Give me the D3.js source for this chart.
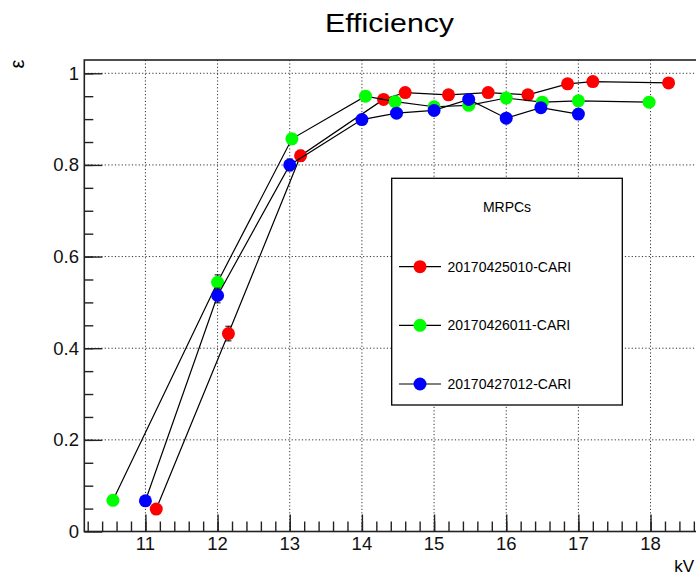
<!DOCTYPE html>
<html lang="en">
<head>
    <meta charset="utf-8">
    <title>Efficiency</title>
    <script src='https://cdn.jsdelivr.net/npm/d3@7/dist/d3.min.js'></script>
</head>
<style>
    body { margin: 0; background: #fff; }
    svg { position: absolute; font-family: 'Liberation Sans', Arial, sans-serif; }
    .grid line { stroke: #333; stroke-width: 1; stroke-dasharray: 1.2,2.2; }
</style>
<body>
<script type="text/javascript">

    // measured efficiency per chamber
    var redX   = [11.15, 12.15, 13.15, 14.3, 14.6, 15.2, 15.75, 16.3, 16.85, 17.2, 18.25];
    var redY   = [0.049, 0.432, 0.820, 0.943, 0.958, 0.953, 0.958, 0.953, 0.977, 0.982, 0.979];
    var redE   = [0.007, 0.016, 0.012, 0.007, 0.006, 0.007, 0.006, 0.007, 0.005, 0.004, 0.004];
    var greenX = [10.55, 12.0, 13.03, 14.05, 14.46, 15.0, 15.48, 16.0, 16.5, 17.0, 17.98];
    var greenY = [0.068, 0.544, 0.857, 0.950, 0.938, 0.927, 0.930, 0.946, 0.937, 0.940, 0.937];
    var greenE = [0.008, 0.016, 0.011, 0.007, 0.008, 0.008, 0.008, 0.007, 0.008, 0.008, 0.008];
    var blueX  = [11.0, 12.0, 13.0, 14.0, 14.48, 15.0, 15.48, 16.0, 16.48, 17.0];
    var blueY  = [0.067, 0.515, 0.800, 0.899, 0.913, 0.919, 0.943, 0.902, 0.925, 0.911];
    var blueE  = [0.008, 0.016, 0.013, 0.010, 0.009, 0.009, 0.007, 0.009, 0.008, 0.009];

    var seriesNames  = ['20170425010-CARI', '20170426011-CARI', '20170427012-CARI'];
    var seriesColors = ['#ff0000', '#00ff00', '#0000ff'];
    var xTicks = [11, 12, 13, 14, 15, 16, 17, 18];
    var yTicks = [0, 0.2, 0.4, 0.6, 0.8, 1];

    var width = 696, height = 577;
    var fLeft = 84.3, fRight = 702.5, fTop = 60, fBottom = 531.5;

    var svg = d3.select('body').append('svg')
        .attr('width', width)
        .attr('height', height);

    var xScale = d3.scaleLinear()
        .domain([10.153, 18.72])
        .range([fLeft, fRight]);
    var yScale = d3.scaleLinear()
        .domain([0, 1.029])
        .range([fBottom, fTop]);

    // dotted grid on major ticks
    var grid = svg.append('g').attr('class', 'grid');
    grid.selectAll('line.gx')
        .data(xTicks)
        .enter().append('line')
        .attr('class', 'gx')
        .attr('x1', function(d){ return xScale(d); })
        .attr('x2', function(d){ return xScale(d); })
        .attr('y1', fTop)
        .attr('y2', fBottom);
    grid.selectAll('line.gy')
        .data(yTicks.slice(1))
        .enter().append('line')
        .attr('class', 'gy')
        .attr('x1', fLeft)
        .attr('x2', fRight)
        .attr('y1', function(d){ return yScale(d); })
        .attr('y2', function(d){ return yScale(d); });

    // frame
    svg.append('rect')
        .attr('x', fLeft)
        .attr('y', fTop)
        .attr('width', fRight - fLeft)
        .attr('height', fBottom - fTop)
        .style('fill', 'none')
        .style('stroke', '#222')
        .style('stroke-width', 1.6);

    // x axis: ticks point up into the frame
    var xAxis = d3.axisTop(xScale)
        .tickValues(xTicks)
        .tickSize(17)
        .tickFormat('');
    var xMinor = d3.axisTop(xScale)
        .tickValues(d3.range(10.2, 18.75, 0.2))
        .tickSize(10)
        .tickFormat('');
    [xAxis, xMinor].forEach(function(ax){
        svg.append('g')
            .attr('transform', 'translate(0,' + fBottom + ')')
            .call(ax)
            .call(function(g){
                g.select('.domain').remove();
                g.selectAll('line').attr('stroke', '#222').attr('stroke-width', 1.4);
            });
    });
    svg.append('g').selectAll('text')
        .data(xTicks)
        .enter().append('text')
        .attr('x', function(d){ return xScale(d); })
        .attr('y', 550)
        .attr('text-anchor', 'middle')
        .style('font-size', '18.5px')
        .style('fill', '#111')
        .text(function(d){ return d; });

    // y axis: ticks point right into the frame
    var yAxis = d3.axisRight(yScale)
        .tickValues(yTicks)
        .tickSize(18)
        .tickFormat('');
    var yMinor = d3.axisRight(yScale)
        .tickValues(d3.range(0.05, 1.03, 0.05))
        .tickSize(9)
        .tickFormat('');
    [yAxis, yMinor].forEach(function(ax){
        svg.append('g')
            .attr('transform', 'translate(' + fLeft + ',0)')
            .call(ax)
            .call(function(g){
                g.select('.domain').remove();
                g.selectAll('line').attr('stroke', '#222').attr('stroke-width', 1.4);
            });
    });
    svg.append('g').selectAll('text')
        .data(yTicks)
        .enter().append('text')
        .attr('x', 79)
        .attr('y', function(d){ return yScale(d) + 6.5; })
        .attr('text-anchor', 'end')
        .style('font-size', '18.5px')
        .style('fill', '#111')
        .text(function(d){ return d; });

    // titles
    svg.append('text')
        .attr('x', 389.5)
        .attr('y', 32)
        .attr('text-anchor', 'middle')
        .attr('textLength', 129)
        .attr('lengthAdjust', 'spacingAndGlyphs')
        .style('font-size', '26px')
        .text('Efficiency');
    svg.append('text')
        .attr('x', 694)
        .attr('y', 571.5)
        .attr('text-anchor', 'end')
        .style('font-size', '17px')
        .text('kV');
    svg.append('text')
        .attr('transform', 'translate(24,64) rotate(-90)')
        .attr('text-anchor', 'middle')
        .style('font-size', '20px')
        .text('ε');

    // graphs: line, error bars, markers, drawn in order
    var allSeries = [
        {x: redX, y: redY, e: redE},
        {x: greenX, y: greenY, e: greenE},
        {x: blueX, y: blueY, e: blueE}
    ];
    var line = d3.line()
        .x(function(d){ return xScale(d[0]); })
        .y(function(d){ return yScale(d[1]); });

    allSeries.forEach(function(s, k){
        var pts = s.x.map(function(v, i){ return [v, s.y[i], s.e[i]]; });
        var g = svg.append('g');
        g.append('path')
            .datum(pts)
            .attr('d', line)
            .style('fill', 'none')
            .style('stroke', '#000')
            .style('stroke-width', 1.2);
        var eb = g.selectAll('g.err')
            .data(pts)
            .enter().append('g')
            .attr('class', 'err')
            .style('stroke', '#000')
            .style('stroke-width', 1);
        eb.append('line')
            .attr('x1', function(d){ return xScale(d[0]); })
            .attr('x2', function(d){ return xScale(d[0]); })
            .attr('y1', function(d){ return yScale(d[1] - d[2]); })
            .attr('y2', function(d){ return yScale(d[1] + d[2]); });
        [-1, 1].forEach(function(sg){
            eb.append('line')
                .attr('x1', function(d){ return xScale(d[0]) - 3; })
                .attr('x2', function(d){ return xScale(d[0]) + 3; })
                .attr('y1', function(d){ return yScale(d[1] + sg * d[2]); })
                .attr('y2', function(d){ return yScale(d[1] + sg * d[2]); });
        });
        g.selectAll('circle')
            .data(pts)
            .enter().append('circle')
            .attr('cx', function(d){ return xScale(d[0]); })
            .attr('cy', function(d){ return yScale(d[1]); })
            .attr('r', 6.5)
            .attr('fill', seriesColors[k]);
    });

    // legend
    var lx = 391.7, ly = 178.3, lw = 230.6, lh = 226.7;
    var legend = svg.append('g');
    legend.append('rect')
        .attr('x', lx)
        .attr('y', ly)
        .attr('width', lw)
        .attr('height', lh)
        .style('fill', '#fff')
        .style('stroke', '#000')
        .style('stroke-width', 1.3);
    legend.append('text')
        .attr('x', lx + lw / 2)
        .attr('y', 212)
        .attr('text-anchor', 'middle')
        .style('font-size', '14px')
        .text('MRPCs');
    var entryY = [266.7, 325.3, 384];
    var entries = legend.selectAll('g.entry')
        .data(seriesNames)
        .enter().append('g')
        .attr('class', 'entry')
        .attr('transform', function(d, i){ return 'translate(0,' + entryY[i] + ')'; });
    entries.append('line')
        .attr('x1', 399)
        .attr('x2', 441)
        .style('stroke', '#000')
        .style('stroke-width', 1.2);
    entries.append('circle')
        .attr('cx', 420)
        .attr('r', 6.5)
        .attr('fill', function(d, i){ return seriesColors[i]; });
    entries.append('text')
        .attr('x', 447.5)
        .attr('y', 5)
        .style('font-size', '14px')
        .text(function(d){ return d; });

</script>
</body>
</html>
